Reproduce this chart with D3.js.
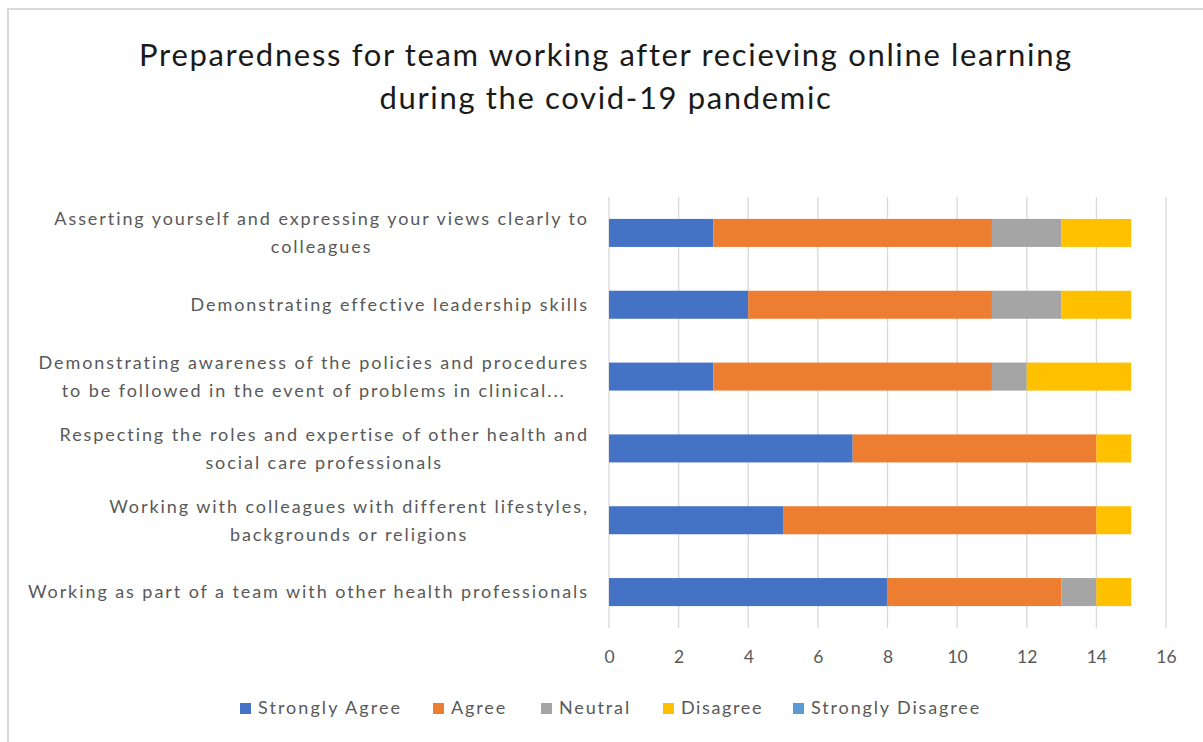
<!DOCTYPE html>
<html>
<head>
<meta charset="utf-8">
<script src="https://cdn.jsdelivr.net/npm/d3@7"></script>
<style>
  body { margin: 0; background: #fff; }
  svg { display: block; font-family: Lato, "Open Sans", sans-serif; }
</style>
</head>
<body>
<svg id="chart" width="1203" height="742"></svg>
<script>
// categories top to bottom, each label split into its lines
let categories = [
    ["Asserting yourself and expressing your views clearly to", "colleagues"],
    ["Demonstrating effective leadership skills"],
    ["Demonstrating awareness of the policies and procedures", "to be followed in the event of problems in clinical..."],
    ["Respecting the roles and expertise of other health and", "social care professionals"],
    ["Working with colleagues with different lifestyles,", "backgrounds or religions"],
    ["Working as part of a team with other health professionals"]
]
let seriesNames = ["Strongly Agree", "Agree", "Neutral", "Disagree", "Strongly Disagree"]
let seriesColors = ["#4472C4", "#ED7D31", "#A5A5A5", "#FFC000", "#5B9BD5"]

let stronglyAgree = [3, 4, 3, 7, 5, 8]
let agree = [8, 7, 8, 7, 9, 5]
let neutral = [2, 2, 1, 0, 0, 1]
let disagree = [2, 2, 3, 1, 1, 1]
let stronglyDisagree = [0, 0, 0, 0, 0, 0]

let xTicks = [0, 2, 4, 6, 8, 10, 12, 14, 16]
let titleLines = ["Preparedness for team working after recieving online learning", "during the covid-19 pandemic"]

let width = 1203, height = 742
let padding = { left: 609, right: 37, top: 197, bottom: 114 }

let svg = d3.select("#chart")

// stretch a text's letter spacing so it spans the wanted width
function fitWidth(sel, target) {
    sel.attr("letter-spacing", 0)
    let w = sel.node().getComputedTextLength()
    let n = sel.text().length
    sel.attr("letter-spacing", (target - w) / n)
}

// chart frame
svg.append("rect")
    .attr("x", 8).attr("y", 9)
    .attr("width", width).attr("height", height)
    .attr("fill", "#fff")
    .attr("stroke", "#d9d9d9")
    .attr("stroke-width", 2)

// build rows for the stack
let allSeries = [stronglyAgree, agree, neutral, disagree, stronglyDisagree]
let rows = categories.map(function(c, i) {
    let row = { idx: i }
    seriesNames.forEach(function(s, j) { row[s] = allSeries[j][i] })
    return row
})
let stacked = d3.stack().keys(seriesNames)(rows)

let xScale = d3.scaleLinear().domain([0, 16]).range([padding.left, width - padding.right])
let yScale = d3.scaleBand().domain(d3.range(categories.length))
    .range([padding.top, height - padding.bottom])
    .paddingInner(0.61).paddingOuter(0.305)

// gridlines
svg.append("g")
    .selectAll("line")
    .data(xTicks)
    .enter().append("line")
    .attr("x1", d => xScale(d)).attr("x2", d => xScale(d))
    .attr("y1", padding.top).attr("y2", height - padding.bottom)
    .attr("stroke", "#d9d9d9")
    .attr("stroke-width", 1.3)

// bars
svg.append("g")
    .selectAll("g")
    .data(stacked)
    .enter().append("g")
    .attr("fill", (d, i) => seriesColors[i])
    .selectAll("rect")
    .data(d => d)
    .enter().append("rect")
    .attr("x", d => xScale(d[0]))
    .attr("width", d => xScale(d[1]) - xScale(d[0]))
    .attr("y", d => yScale(d.data.idx))
    .attr("height", yScale.bandwidth())

// x axis (labels only)
let xAxis = d3.axisBottom(xScale).tickValues(xTicks).tickSize(0).tickPadding(0)
let xg = svg.append("g")
    .attr("transform", `translate(0, ${height - padding.bottom + 23})`)
    .call(xAxis)
xg.select(".domain").remove()
xg.selectAll("text")
    .attr("font-family", "Lato, sans-serif")
    .attr("font-size", 17.5)
    .attr("fill", "#595959")

// category labels: block right aligned, lines centred within block
let labelGroup = svg.append("g")
    .attr("font-size", 18)
    .attr("fill", "#595959")
// work out spacing from the longest label (561px wide in the original)
let probe = labelGroup.append("text").text(categories[5][0])
fitWidth(probe, 561)
let labelSpacing = +probe.attr("letter-spacing")
probe.remove()

let labelRight = padding.left - 21
categories.forEach(function(lines, i) {
    let cy = yScale(i) + yScale.bandwidth() / 2
    let lineH = 28
    let texts = lines.map(function(line, k) {
        return labelGroup.append("text")
            .attr("y", cy + (k - (lines.length - 1) / 2) * lineH)
            .attr("dy", "0.35em")
            .attr("text-anchor", "middle")
            .attr("letter-spacing", labelSpacing)
            .text(line)
    })
    let maxW = d3.max(texts, t => t.node().getComputedTextLength())
    texts.forEach(t => t.attr("x", labelRight - maxW / 2 + labelSpacing / 2))
})

// title
let titleWidths = [933, 453]
svg.append("g")
    .selectAll("text")
    .data(titleLines)
    .enter().append("text")
    .attr("x", 606)
    .attr("y", (d, i) => 66 + i * 43)
    .attr("text-anchor", "middle")
    .attr("font-size", 31)
    .attr("fill", "#1a1a1a")
    .text(d => d)
    .each(function(d, i) { fitWidth(d3.select(this), titleWidths[i]) })

// legend
let legendX = [240, 433, 541, 663, 793]
let legendW = [144, 56, 72, 82, 170]
let legend = svg.append("g")
    .selectAll("g")
    .data(seriesNames)
    .enter().append("g")
    .attr("transform", (d, i) => `translate(${legendX[i]}, 708)`)
legend.append("rect")
    .attr("x", 0).attr("y", -5)
    .attr("width", 11).attr("height", 11)
    .attr("fill", (d, i) => seriesColors[i])
legend.append("text")
    .attr("x", 18)
    .attr("dy", "0.35em")
    .attr("font-size", 18)
    .attr("fill", "#595959")
    .text(d => d)
    .each(function(d, i) { fitWidth(d3.select(this), legendW[i]) })
</script>
</body>
</html>
